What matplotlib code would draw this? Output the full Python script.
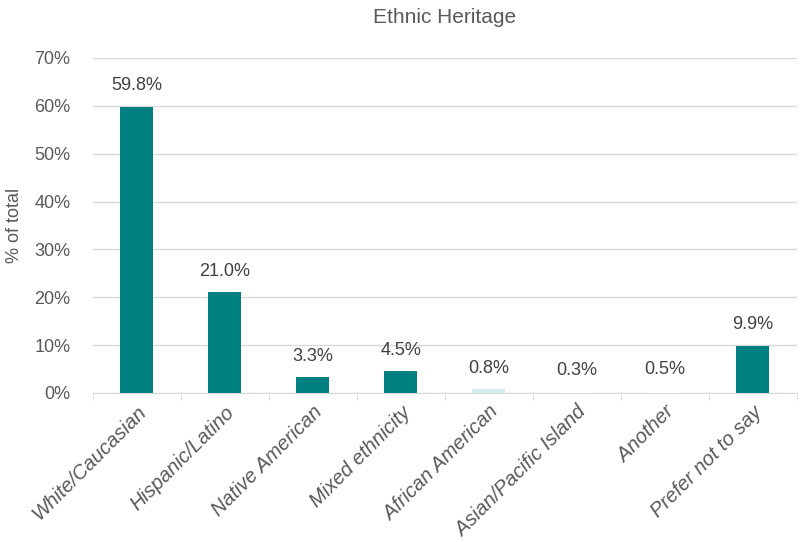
import matplotlib.pyplot as plt
from matplotlib.ticker import FixedLocator, PercentFormatter

plt.rcParams["font.family"] = ["Liberation Sans", "DejaVu Sans"]

categories = ["White/Caucasian", "Hispanic/Latino", "Native American", "Mixed ethnicity",
              "African American", "Asian/Pacific Island", "Another", "Prefer not to say"]
values = [59.8, 21.0, 3.3, 4.5, 0.8, 0.3, 0.5, 9.9]
bar_colors = ["#008080", "#008080", "#008080", "#008080",
              "#d4ebeb", "#ffffff", "#ffffff", "#008080"]

text_gray = "#595959"

fig = plt.figure(figsize=(8, 5.42), dpi=100)
ax = fig.add_axes([0.116, 0.275, 0.88, 0.618])

x = range(len(categories))
ax.bar(x, values, width=0.375, color=bar_colors, zorder=3)

for xi, v in zip(x, values):
    ax.annotate(f"{v:.1f}%", (xi, v), xytext=(0, 9), textcoords="offset points",
                ha="center", va="bottom", fontsize=13, color="#404040")

ax.set_xlim(-0.5, len(categories) - 0.5)
ax.set_ylim(0, 70)
ax.set_yticks(range(0, 71, 10))
ax.yaxis.set_major_formatter(PercentFormatter(decimals=0))
ax.grid(axis="y", color="#d9d9d9", linewidth=1, zorder=0)

ax.set_xticks(list(x))
ax.set_xticklabels(categories, rotation=45, ha="right", rotation_mode="anchor",
                   fontstyle="italic", fontsize=14.5, color=text_gray)
ax.tick_params(axis="x", length=0, pad=7)
ax.xaxis.set_minor_locator(FixedLocator([i - 0.5 for i in range(len(categories) + 1)]))
ax.tick_params(axis="x", which="minor", length=5, color="#d9d9d9")
ax.tick_params(axis="y", length=0, labelsize=13, labelcolor=text_gray, pad=16)

for side in ["top", "right", "left"]:
    ax.spines[side].set_visible(False)
ax.spines["bottom"].set_color("#d9d9d9")

ax.set_ylabel("% of total", fontsize=13, color=text_gray, labelpad=8)
ax.set_title("Ethnic Heritage", fontsize=15, color=text_gray, pad=25)

fig.savefig("out.png")
